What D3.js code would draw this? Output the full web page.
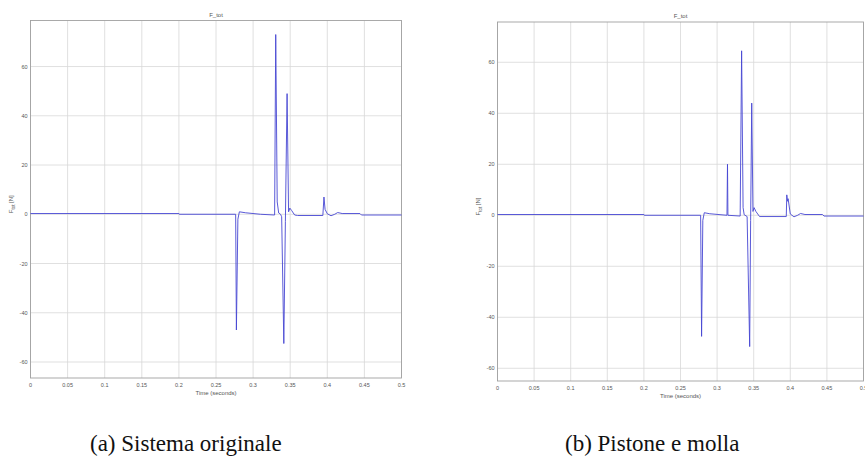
<!DOCTYPE html>
<html>
<head>
<meta charset="utf-8">
<script src="https://cdn.jsdelivr.net/npm/d3@7"></script>
<style>
  body { margin: 0; background: #fff; }
  svg text { font-family: "Liberation Sans", Arial, sans-serif; fill: #555; }
  .caption { font-family: "Liberation Serif", "DejaVu Serif", serif; fill: #111; }
</style>
</head>
<body>
<div id="chart"></div>
<script>
// x ticks / y ticks shared by both scopes
const xTicks = [0, 0.05, 0.1, 0.15, 0.2, 0.25, 0.3, 0.35, 0.4, 0.45, 0.5];
const yTicks = [-60, -40, -20, 0, 20, 40, 60];
const xTickLabels = ['0', '0.05', '0.1', '0.15', '0.2', '0.25', '0.3', '0.35', '0.4', '0.45', '0.5'];

// (a) Sistema originale
const timeA = [0, 0.2, 0.2005, 0.2765, 0.2775, 0.2795, 0.2815, 0.29, 0.31, 0.329, 0.3305, 0.3325,
  0.3345, 0.337, 0.3385, 0.3414, 0.3435, 0.3458, 0.3478, 0.3495, 0.352, 0.356, 0.36, 0.394,
  0.3955, 0.397, 0.4, 0.405, 0.41, 0.414, 0.42, 0.444, 0.446, 0.5];
const forceA = [0.3, 0.3, 0, 0, -47, -2, 1, 0.6, 0, -0.3, 73, 5,
  0.5, 0, -1, -52.5, -3, 49, 1, 2.5, 1.5, -0.3, -0.5, -0.5,
  7, 2, 0.2, -0.6, 0, 0.7, 0.3, 0.3, -0.3, -0.3];

// (b) Pistone e molla
const timeB = [0, 0.2, 0.2005, 0.2775, 0.2788, 0.2805, 0.2825, 0.29, 0.3135, 0.3142, 0.3148,
  0.3315, 0.3335, 0.3355, 0.337, 0.341, 0.3445, 0.3458, 0.3473, 0.349, 0.3505, 0.353, 0.358,
  0.3945, 0.3952, 0.3962, 0.397, 0.4, 0.405, 0.41, 0.414, 0.42, 0.444, 0.446, 0.5];
const forceB = [0.3, 0.3, 0, 0, -47.5, -2, 1, 0.6, 0, 20, 0,
  -0.3, 64.5, 3, 0.2, -0.5, -51.5, -2, 44, 1.5, 3, 1.5, -0.5,
  -0.5, 8, 5.5, 6.5, 0.5, -0.6, 0, 0.7, 0.3, 0.3, -0.3, -0.3];

const captions = ['(a) Sistema originale', '(b) Pistone e molla'];

const svg = d3.select('#chart').append('svg')
  .attr('width', 865)
  .attr('height', 459);

const panels = [
  { t: timeA, v: forceA, x0: 30.5, x1: 401.5, y0: 20.5, y1: 378, dom: [-66.5, 78.7], ylabX: 13, capX: 90 },
  { t: timeB, v: forceB, x0: 497.5, x1: 863.5, y0: 22, y1: 381, dom: [-65, 75.8], ylabX: 480, capX: 565 }
];

panels.forEach((p, i) => {
  const x = d3.scaleLinear().domain([0, 0.5]).range([p.x0, p.x1]);
  const y = d3.scaleLinear().domain(p.dom).range([p.y1, p.y0]);
  const g = svg.append('g');

  // grid
  g.selectAll('.gx').data(xTicks).enter().append('line')
    .attr('x1', d => x(d)).attr('x2', d => x(d))
    .attr('y1', p.y0).attr('y2', p.y1)
    .attr('stroke', '#d8d8d8').attr('stroke-width', 0.8);
  g.selectAll('.gy').data(yTicks).enter().append('line')
    .attr('x1', p.x0).attr('x2', p.x1)
    .attr('y1', d => y(d)).attr('y2', d => y(d))
    .attr('stroke', '#d8d8d8').attr('stroke-width', 0.8);

  // frame
  g.append('rect')
    .attr('x', p.x0).attr('y', p.y0)
    .attr('width', p.x1 - p.x0).attr('height', p.y1 - p.y0)
    .attr('fill', 'none').attr('stroke', '#a0a0a0').attr('stroke-width', 0.9);

  // tick labels
  g.selectAll('.tx').data(xTicks).enter().append('text')
    .attr('x', d => x(d)).attr('y', p.y1 + 9)
    .attr('text-anchor', 'middle').attr('font-size', 5.5)
    .text((d, j) => xTickLabels[j]);
  g.selectAll('.ty').data(yTicks).enter().append('text')
    .attr('x', p.x0 - 3).attr('y', d => y(d) + 2)
    .attr('text-anchor', 'end').attr('font-size', 5.5)
    .text(d => d);

  // title
  g.append('text')
    .attr('x', (p.x0 + p.x1) / 2).attr('y', p.y0 - 4)
    .attr('text-anchor', 'middle').attr('font-size', 6)
    .text('F_tot');

  // x label
  g.append('text')
    .attr('x', (p.x0 + p.x1) / 2).attr('y', p.y1 + 17)
    .attr('text-anchor', 'middle').attr('font-size', 6)
    .text('Time (seconds)');

  // y label
  const yl = g.append('text')
    .attr('transform', `translate(${p.ylabX},${(p.y0 + p.y1) / 2 + 5}) rotate(-90)`)
    .attr('text-anchor', 'middle').attr('font-size', 6);
  yl.append('tspan').text('F');
  yl.append('tspan').attr('font-size', 4.5).attr('dy', 1.5).text('tot');
  yl.append('tspan').attr('dy', -1.5).text(' [N]');

  // signal
  const pts = p.t.map((t, j) => [t, p.v[j]]);
  g.append('path')
    .datum(pts)
    .attr('fill', 'none')
    .attr('stroke', '#4646d2')
    .attr('stroke-width', 0.9)
    .attr('stroke-linejoin', 'round')
    .attr('d', d3.line().x(d => x(d[0])).y(d => y(d[1])));

  // caption
  svg.append('text')
    .attr('class', 'caption')
    .attr('x', p.capX).attr('y', 451)
    .attr('font-size', 23)
    .text(captions[i]);
});
</script>
</body>
</html>
